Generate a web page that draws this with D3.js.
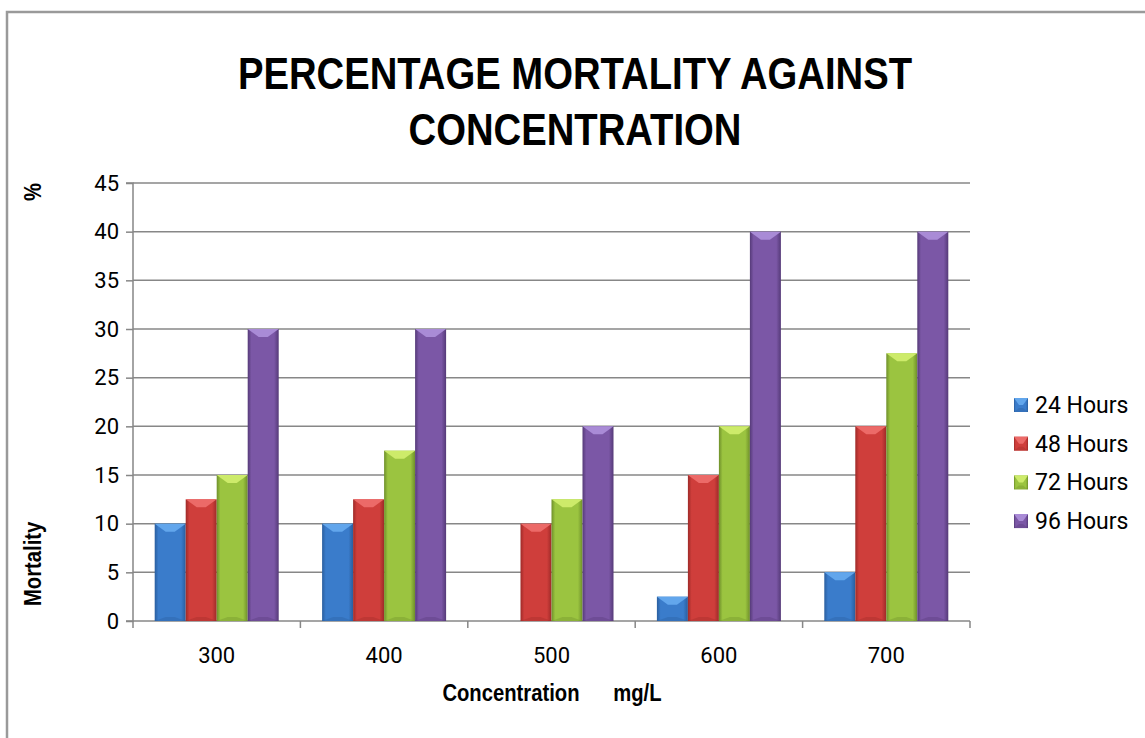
<!DOCTYPE html>
<html><head><meta charset="utf-8">
<script src="https://cdn.jsdelivr.net/npm/d3@7"></script>
<style>html,body{margin:0;padding:0;background:#fff;} svg{display:block;}</style>
</head><body>
<svg id="chart" width="1145" height="738"></svg>
<script>
const categories = ["300","400","500","600","700"];
const seriesNames = ["24 Hours","48 Hours","72 Hours","96 Hours"];
const hours24 = [10, 10, 0, 2.5, 5];
const hours48 = [12.5, 12.5, 10, 15, 20];
const hours72 = [15, 17.5, 12.5, 20, 27.5];
const hours96 = [30, 30, 20, 40, 40];
const yTicks = [0,5,10,15,20,25,30,35,40,45];
const seriesValues = [hours24, hours48, hours72, hours96];

const colors = [
  {base:"#3a7ccb", light:"#62a6ec", dark:"#2a5e9e"},
  {base:"#cf3e3b", light:"#ec6a68", dark:"#9e2a28"},
  {base:"#9bc440", light:"#cdeb6a", dark:"#6e8f2a"},
  {base:"#7b57a6", light:"#a98bd6", dark:"#553a78"}
];

const svg = d3.select("#chart");
const font = "Roboto, 'Liberation Sans', Arial, sans-serif";
const titleFont = "'Liberation Sans', Arial, sans-serif";

// frame
svg.append("rect").attr("x",7).attr("y",12).attr("width",1160).attr("height",760)
  .attr("fill","#fff").attr("stroke","#9a9a9a").attr("stroke-width",2.5);

const pLeft=133, pRight=970, pTop=183, pBottom=621;
const x0 = d3.scaleBand().domain(categories).range([pLeft,pRight]).padding(0);
const x1 = d3.scaleBand().domain(seriesNames).range([0,x0.bandwidth()]).paddingInner(0).paddingOuter(0.7);
const y = d3.scaleLinear().domain([0,45]).range([pBottom,pTop]);

const defs = svg.append("defs");
colors.forEach((c,i)=>{
  const g = defs.append("linearGradient").attr("id","g"+i).attr("x1","0").attr("x2","1").attr("y1","0").attr("y2","0");
  g.append("stop").attr("offset","0").attr("stop-color",c.dark);
  g.append("stop").attr("offset","0.12").attr("stop-color",c.base);
  g.append("stop").attr("offset","0.85").attr("stop-color",c.base);
  g.append("stop").attr("offset","1").attr("stop-color",c.dark);
});

// gridlines
svg.append("g").selectAll("line").data(yTicks.filter(d=>d>0)).join("line")
  .attr("x1",pLeft).attr("x2",pRight).attr("y1",d=>y(d)).attr("y2",d=>y(d))
  .attr("stroke","#878787").attr("stroke-width",1.5);

// y axis
const yAxis = d3.axisLeft(y).tickValues(yTicks).tickSize(7).tickPadding(7).tickFormat(d3.format("d"));
const ya = svg.append("g").attr("transform",`translate(${pLeft},0)`).call(yAxis);
ya.select(".domain").attr("stroke","#878787").attr("stroke-width",1.5).attr("d",`M-7,${pTop}H0V${pBottom}H-7`);
ya.selectAll(".tick line").attr("stroke","#878787").attr("stroke-width",1.5);
ya.selectAll(".tick text").attr("font-family",font).attr("font-size",22).attr("fill","#000");

// x axis
const xa = svg.append("g").attr("transform",`translate(0,${pBottom})`);
xa.append("line").attr("x1",pLeft).attr("x2",pRight).attr("stroke","#878787").attr("stroke-width",1.5);
xa.selectAll("line.tk").data(categories.concat(["end"])).join("line").attr("class","tk")
  .attr("x1",(d,i)=> i<categories.length? x0(d): pRight).attr("x2",(d,i)=> i<categories.length? x0(d): pRight)
  .attr("y1",0).attr("y2",7).attr("stroke","#878787").attr("stroke-width",1.5);
xa.selectAll("text").data(categories).join("text")
  .attr("x",d=>x0(d)+x0.bandwidth()/2).attr("y",42).attr("text-anchor","middle")
  .attr("font-family",font).attr("font-size",22).attr("fill","#000").text(d=>d);

function drawBevelBar(g, xL, w, yT, yB, c, i){
  const h = yB - yT;
  if (h <= 0) return;
  g.append("rect").attr("x",xL).attr("y",yT).attr("width",w).attr("height",h).attr("fill",`url(#g${i})`);
  const bv = Math.min(8, h/2), bh = Math.min(11, w/2 - 2);
  g.append("path").attr("d",`M${xL},${yT}H${xL+w}L${xL+w-bh},${yT+bv}H${xL+bh}Z`).attr("fill",c.light);
  g.append("path").attr("d",`M${xL},${yB}H${xL+w}L${xL+w-bh},${yB-Math.min(4,h/2)}H${xL+bh}Z`).attr("fill",c.dark).attr("opacity",0.35);
}
const barsG = svg.append("g");
categories.forEach((cat,ci)=>{
  seriesNames.forEach((s,si)=>{
    const v = seriesValues[si][ci];
    drawBevelBar(barsG, x0(cat)+x1(s), x1.bandwidth(), y(v), y(0), colors[si], si);
  });
});

// title (condensed bold)
const tg = svg.append("g").attr("transform","translate(575,0) scale(0.85,1)");
const title = tg.append("text").attr("text-anchor","middle").attr("font-family",titleFont)
  .attr("font-weight","bold").attr("font-size",45).attr("fill","#000");
title.append("tspan").attr("x",0).attr("y",89).text("PERCENTAGE MORTALITY AGAINST");
title.append("tspan").attr("x",0).attr("y",145).text("CONCENTRATION");

// axis titles
const atg = svg.append("g").attr("transform","translate(552,0) scale(0.88,1)");
atg.append("text").attr("x",0).attr("y",701).attr("text-anchor","middle")
  .attr("font-family",titleFont).attr("font-weight","bold").attr("font-size",23).attr("fill","#000")
  .attr("xml:space","preserve").style("white-space","pre").text("Concentration      mg/L");
svg.append("text").attr("transform",`translate(41,606) rotate(-90) scale(0.88,1)`).attr("text-anchor","start")
  .attr("font-family",titleFont).attr("font-weight","bold").attr("font-size",23).attr("fill","#000").text("Mortality");
svg.append("text").attr("transform",`translate(41,183) rotate(-90) scale(0.88,1)`).attr("text-anchor","end")
  .attr("font-family",titleFont).attr("font-weight","bold").attr("font-size",23).attr("fill","#000").text("%");

// legend
const lg = svg.append("g");
seriesNames.forEach((s,i)=>{
  const cy = 405 + i*38.7;
  const sq = 14;
  drawBevelBar(lg, 1014, sq, cy-sq/2, cy+sq/2, colors[i], i);
  lg.append("text").attr("x",1035).attr("y",cy+8).attr("font-family",font).attr("font-size",23)
    .attr("fill","#000").text(s);
});
</script>
</body></html>
